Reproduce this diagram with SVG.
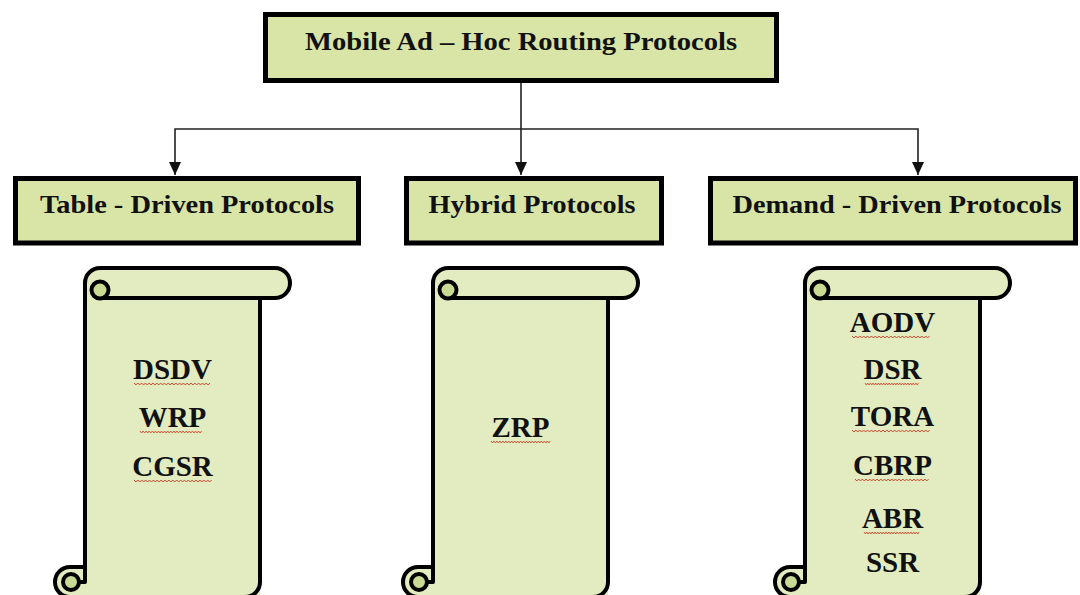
<svg xmlns="http://www.w3.org/2000/svg" width="1080" height="595" viewBox="0 0 1080 595">
  <defs>
    <style>
      .box { fill: #d8e5a7; stroke: #000; stroke-width: 5; }
      .head { font-family: "Liberation Serif", "Times New Roman", serif; font-weight: bold; font-size: 26px; fill: #111; text-anchor: middle; }
      .item { font-family: "Liberation Serif", "Times New Roman", serif; font-weight: bold; font-size: 29px; fill: #111; text-anchor: middle; }
      .paper { fill: #e2ecc0; stroke: none; }
      .curl { fill: #c9da94; stroke: #000; stroke-width: 4; }
      .edge { fill: none; stroke: #000; stroke-width: 4; stroke-linejoin: round; stroke-linecap: round; }
      .link { fill: none; stroke: #222; stroke-width: 1.6; }
      .squig { fill: none; stroke: #d0452e; stroke-width: 1; }
    </style>
    <marker id="arrow" viewBox="0 0 13 12" refX="13" refY="6" markerWidth="13" markerHeight="12" markerUnits="userSpaceOnUse" orient="auto-start-reverse">
      <path d="M0,0 L13,6 L0,12 Z" fill="#111"/>
    </marker>
    <!-- vertical scroll: local origin at the left of the lower roll, top of the upper roll -->
    <g id="scroll">
      <rect class="paper" x="30" y="15" width="175" height="314"/>
      <rect class="paper" x="30" y="0" width="205" height="30" rx="15"/>
      <path class="paper" d="M15,299 L30,299 L30,329 L15,329 A15,15 0 0 1 15,299 Z"/>
      <path class="edge" d="M30,15 A15,15 0 0 1 45,0 L220,0 A15,15 0 0 1 220,30 L45,30"/>
      <!-- upper curl -->
      <circle class="curl" cx="45" cy="22" r="8.5"/>
      <path class="edge" d="M30,15 L30,314 L24,314"/>
      <path class="edge" d="M205,30 L205,314 A15,15 0 0 1 190,329 L15,329 A15,15 0 0 1 15,299 L30,299"/>
      <!-- lower curl -->
      <circle class="curl" cx="16" cy="314" r="8"/>
    </g>
    <path id="wave" d="M0,0 l2,2 l2,-2 l2,2 l2,-2 l2,2 l2,-2 l2,2 l2,-2 l2,2 l2,-2 l2,2 l2,-2 l2,2 l2,-2 l2,2 l2,-2 l2,2 l2,-2 l2,2 l2,-2 l2,2 l2,-2 l2,2 l2,-2 l2,2 l2,-2 l2,2 l2,-2 l2,2 l2,-2 l2,2 l2,-2 l2,2 l2,-2 l2,2 l2,-2 l2,2 l2,-2 l2,2 l2,-2"/>
  </defs>

  <rect width="1080" height="595" fill="#fff"/>

  <!-- connectors -->
  <g id="connectors">
    <line class="link" x1="521" y1="83" x2="521" y2="175" marker-end="url(#arrow)"/>
    <polyline class="link" points="175,175 175,129 918,129 918,175" marker-start="url(#arrow)" marker-end="url(#arrow)"/>
  </g>

  <g id="root">
    <rect class="box" x="265.5" y="14.5" width="511" height="66"/>
    <text class="head" x="521" y="50" textLength="432" lengthAdjust="spacingAndGlyphs">Mobile Ad – Hoc Routing Protocols</text>
  </g>

  <g id="table-driven">
    <rect class="box" x="15.5" y="178.5" width="343" height="64.5"/>
    <text class="head" x="187" y="213" textLength="294" lengthAdjust="spacingAndGlyphs">Table - Driven Protocols</text>
  </g>

  <g id="hybrid">
    <rect class="box" x="406.5" y="178.5" width="255" height="64.5"/>
    <text class="head" x="532" y="213" textLength="207" lengthAdjust="spacingAndGlyphs">Hybrid Protocols</text>
  </g>

  <g id="demand-driven">
    <rect class="box" x="710.5" y="178.5" width="365" height="64.5"/>
    <text class="head" x="897" y="213" textLength="329" lengthAdjust="spacingAndGlyphs">Demand - Driven Protocols</text>
  </g>

  <g id="table-list">
    <use href="#scroll" x="55" y="268"/>
    <text class="item" x="172.5" y="379">DSDV</text>
    <text class="item" x="172.5" y="427">WRP</text>
    <text class="item" x="172.5" y="476">CGSR</text>
    <use href="#wave" class="squig" transform="translate(134,383) scale(0.95,1)"/>
    <use href="#wave" class="squig" transform="translate(140,431) scale(0.77,1)"/>
    <use href="#wave" class="squig" transform="translate(134,480) scale(0.97,1)"/>
  </g>

  <g id="hybrid-list">
    <use href="#scroll" x="403" y="268"/>
    <text class="item" x="520.5" y="437">ZRP</text>
    <use href="#wave" class="squig" transform="translate(491,441) scale(0.74,1)"/>
  </g>

  <g id="demand-list">
    <use href="#scroll" x="775" y="268"/>
    <text class="item" x="892.5" y="332">AODV</text>
    <text class="item" x="892.5" y="379">DSR</text>
    <text class="item" x="892.5" y="426">TORA</text>
    <text class="item" x="892.5" y="475">CBRP</text>
    <text class="item" x="892.5" y="528">ABR</text>
    <text class="item" x="892.5" y="572">SSR</text>
    <use href="#wave" class="squig" transform="translate(852,336) scale(0.97,1)"/>
    <use href="#wave" class="squig" transform="translate(865,383) scale(0.67,1)"/>
    <use href="#wave" class="squig" transform="translate(852,430) scale(0.97,1)"/>
    <use href="#wave" class="squig" transform="translate(855,479) scale(0.92,1)"/>
    <use href="#wave" class="squig" transform="translate(864,532) scale(0.69,1)"/>
  </g>
</svg>
